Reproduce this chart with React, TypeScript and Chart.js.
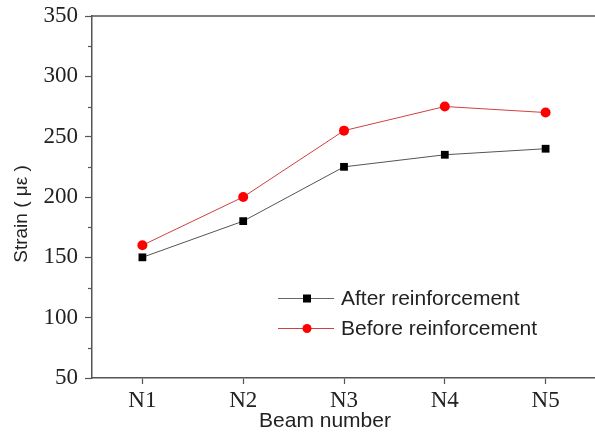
import React, { useEffect, useRef } from "react";
import { Chart, registerables } from "chart.js";

Chart.register(...registerables);

const categories = ["N1", "N2", "N3", "N4", "N5"];
const afterValues = [150, 180, 225, 235, 240];
const beforeValues = [160, 200, 255, 275, 270];
const yTicks = [50, 100, 150, 200, 250, 300, 350];
const yMinorTicks = [75, 125, 175, 225, 275, 325];
const seriesNames = ["After reinforcement", "Before reinforcement"];

const AXIS_COLOR = "#555555";
const SANS = "'Liberation Sans', Arial, sans-serif";
const SERIF = "'Liberation Serif', 'Times New Roman', serif";

const framePlugin = {
  id: "frame",
  afterDraw(chart: any) {
    const { ctx, chartArea } = chart;
    const y = chart.scales.y;
    ctx.save();
    ctx.strokeStyle = AXIS_COLOR;
    ctx.lineWidth = 1.5;
    ctx.beginPath();
    ctx.moveTo(chartArea.left, chartArea.top);
    ctx.lineTo(chart.width, chartArea.top);
    ctx.stroke();
    ctx.lineWidth = 1.2;
    yMinorTicks.forEach((v) => {
      const py = Math.round(y.getPixelForValue(v)) + 0.5;
      ctx.beginPath();
      ctx.moveTo(chartArea.left - 4, py);
      ctx.lineTo(chartArea.left, py);
      ctx.stroke();
    });
    ctx.fillStyle = "#222222";
    ctx.font = `21px ${SANS}`;
    ctx.textAlign = "center";
    ctx.textBaseline = "middle";
    ctx.fillText("Beam number", 325, 421);
    ctx.save();
    ctx.translate(22, 214);
    ctx.rotate(-Math.PI / 2);
    ctx.font = `19px ${SANS}`;
    ctx.fillText("Strain ( με )", 0, 0);
    ctx.restore();
    const items = [
      { name: seriesNames[0], color: "#666666", mColor: "#000000", style: "rect", y: 298 },
      { name: seriesNames[1], color: "#d04040", mColor: "#ff0000", style: "circle", y: 328 },
    ];
    items.forEach((it) => {
      ctx.strokeStyle = it.color;
      ctx.lineWidth = 1;
      ctx.beginPath();
      ctx.moveTo(278, it.y + 0.5);
      ctx.lineTo(334, it.y + 0.5);
      ctx.stroke();
      ctx.fillStyle = it.mColor;
      if (it.style === "rect") {
        ctx.fillRect(303, it.y - 3.5, 8, 8);
      } else {
        ctx.beginPath();
        ctx.arc(307, it.y + 0.5, 4.5, 0, Math.PI * 2);
        ctx.fill();
      }
      ctx.fillStyle = "#222222";
      ctx.textAlign = "left";
      ctx.font = `21px ${SANS}`;
      ctx.fillText(it.name, 341, it.y + 1);
    });
    ctx.restore();
  },
};

const zeroPad = (scale: any) => {
  scale.paddingTop = 0;
  scale.paddingBottom = 0;
  scale.paddingLeft = 0;
  scale.paddingRight = 0;
};

export default function App() {
  const canvasRef = useRef<HTMLCanvasElement | null>(null);

  useEffect(() => {
    if (!canvasRef.current) return;
    const chart = new Chart(canvasRef.current, {
      type: "line",
      data: {
        datasets: [
          {
            label: seriesNames[0],
            data: afterValues.map((v, i) => ({ x: i + 1, y: v })),
            borderColor: "#555555",
            borderWidth: 1,
            backgroundColor: "#000000",
            pointStyle: "rect",
            pointRadius: 5.5,
            pointBorderWidth: 0,
            pointBackgroundColor: "#000000",
            tension: 0,
          },
          {
            label: seriesNames[1],
            data: beforeValues.map((v, i) => ({ x: i + 1, y: v })),
            borderColor: "#d04040",
            borderWidth: 1,
            backgroundColor: "#ff0000",
            pointStyle: "circle",
            pointRadius: 5,
            pointBorderWidth: 0,
            pointBackgroundColor: "#ff0000",
            tension: 0,
          },
        ],
      },
      options: {
        animation: false,
        responsive: false,
        maintainAspectRatio: false,
        layout: { autoPadding: false, padding: { top: 16, right: 0, left: 0, bottom: 0 } },
        plugins: {
          legend: { display: false },
          tooltip: { enabled: false },
        },
        scales: {
          x: {
            type: "linear",
            min: 0.5,
            max: 5.49,
            afterBuildTicks: (scale: any) => {
              scale.ticks = categories.map((_, i) => ({ value: i + 1 }));
            },
            afterFit: (scale: any) => {
              scale.height = 54;
              zeroPad(scale);
            },
            ticks: {
              callback: (v: any) => categories[Math.round(v) - 1] ?? "",
              font: { family: SERIF, size: 23 },
              color: "#222222",
              padding: 3,
              maxRotation: 0,
              autoSkip: false,
            },
            grid: {
              drawOnChartArea: false,
              drawTicks: true,
              tickLength: 6,
              tickColor: AXIS_COLOR,
              tickWidth: 1.2,
            },
            border: { color: AXIS_COLOR, width: 1.5 },
          },
          y: {
            type: "linear",
            min: 50,
            max: 350,
            afterBuildTicks: (scale: any) => {
              scale.ticks = yTicks.map((v) => ({ value: v }));
            },
            afterFit: (scale: any) => {
              scale.width = 92;
              zeroPad(scale);
            },
            ticks: {
              font: { family: SERIF, size: 23 },
              color: "#222222",
              padding: 7,
            },
            grid: {
              drawOnChartArea: false,
              drawTicks: true,
              tickLength: 7,
              tickColor: AXIS_COLOR,
              tickWidth: 1.2,
            },
            border: { color: AXIS_COLOR, width: 1.5 },
          },
        },
      },
      plugins: [framePlugin],
    });
    return () => chart.destroy();
  }, []);

  return (
    <div style={{ position: "fixed", left: 0, top: 0, width: 595, height: 432, background: "#fff" }}>
      <canvas ref={canvasRef} width={595} height={432} style={{ width: 595, height: 432 }} />
    </div>
  );
}
